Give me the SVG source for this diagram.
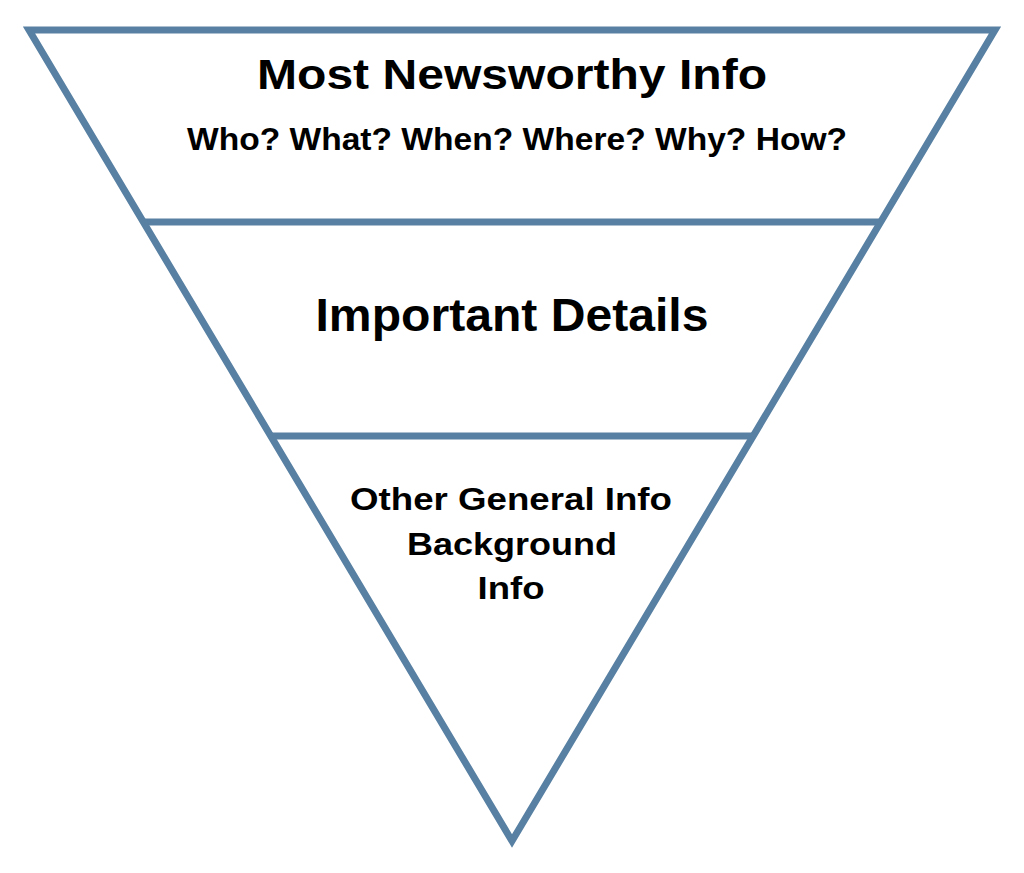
<svg xmlns="http://www.w3.org/2000/svg" width="1024" height="873" viewBox="0 0 1024 873">
<style>
.edge{fill:none;stroke:#5880a3;stroke-width:7;stroke-linejoin:miter;stroke-miterlimit:10}
.t{font-family:"Liberation Sans",Arial,sans-serif;font-weight:bold;fill:#000;text-anchor:middle}
</style>
<rect width="1024" height="873" fill="#fff"/>
<g id="funnel">
<polygon class="edge" points="29,30 995,30 512,841"/>
</g>
<g id="connectors">
<line class="edge" x1="142" y1="222" x2="882" y2="222"/>
<line class="edge" x1="270" y1="436" x2="754" y2="436"/>
</g>
<g id="tier1">
<text class="t" x="512" y="89" font-size="43" textLength="510" lengthAdjust="spacingAndGlyphs">Most Newsworthy Info</text>
<text class="t" x="517" y="150" font-size="30.5" textLength="660" lengthAdjust="spacingAndGlyphs">Who? What? When? Where? Why? How?</text>
</g>
<g id="tier2">
<text class="t" x="512" y="331" font-size="47" textLength="393" lengthAdjust="spacingAndGlyphs">Important Details</text>
</g>
<g id="tier3">
<text class="t" x="511" y="510" font-size="30.5" textLength="322" lengthAdjust="spacingAndGlyphs">Other General Info</text>
<text class="t" x="512" y="555" font-size="30.5" textLength="210" lengthAdjust="spacingAndGlyphs">Background</text>
<text class="t" x="511" y="599" font-size="30.5" textLength="67" lengthAdjust="spacingAndGlyphs">Info</text>
</g>
</svg>
